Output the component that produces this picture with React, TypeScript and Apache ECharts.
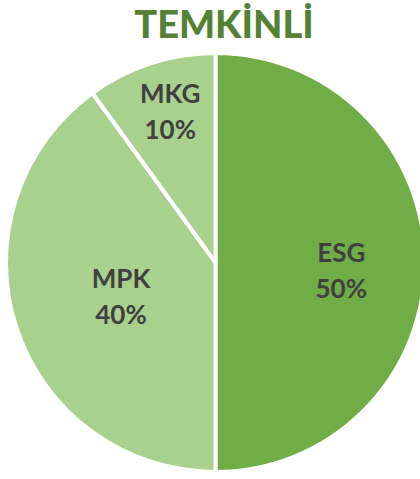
import React, { useEffect, useRef } from "react";
import * as echarts from "echarts";

const categories = ["ESG", "MPK", "MKG"];
const values = [50, 40, 10];
const titleText = "TEMKİNLİ";

const sliceColors = ["#70AD47", "#A9D18E", "#A9D18E"];
const labelOffsets: [number, number][] = [
  [18, 7],
  [8, 0],
  [-12, -49],
];

export default function App() {
  const ref = useRef<HTMLDivElement>(null);
  useEffect(() => {
    if (!ref.current) return;
    const chart = echarts.init(ref.current, undefined, { renderer: "svg" });
    chart.setOption({
      animation: false,
      backgroundColor: "#ffffff",
      graphic: [
        {
          type: "text",
          x: 224,
          y: 23,
          style: {
            text: titleText,
            fill: "#548235",
            fontFamily: "Lato",
            fontWeight: 900,
            fontSize: 38,
            lineHeight: 40,
            textAlign: "center",
            textVerticalAlign: "middle",
          },
        },
      ],
      series: [
        {
          type: "pie",
          center: [215.5, 262.5],
          radius: [0, 209.5],
          startAngle: 90,
          clockwise: true,
          avoidLabelOverlap: false,
          emphasis: { disabled: true },
          itemStyle: { borderColor: "#ffffff", borderWidth: 4 },
          labelLine: { show: false },
          label: {
            show: true,
            position: "inside",
            formatter: "{b}\n{d}%",
            color: "#404040",
            fontFamily: "Lato",
            fontWeight: "bold",
            fontSize: 26,
            lineHeight: 36,
          },
          data: categories.map((name, i) => ({
            name,
            value: values[i],
            itemStyle: { color: sliceColors[i] },
            label: { offset: labelOffsets[i] },
          })),
        },
      ],
    });
    return () => chart.dispose();
  }, []);
  return (
    <div
      ref={ref}
      style={{ position: "fixed", left: 0, top: 0, width: 420, height: 479 }}
    />
  );
}
